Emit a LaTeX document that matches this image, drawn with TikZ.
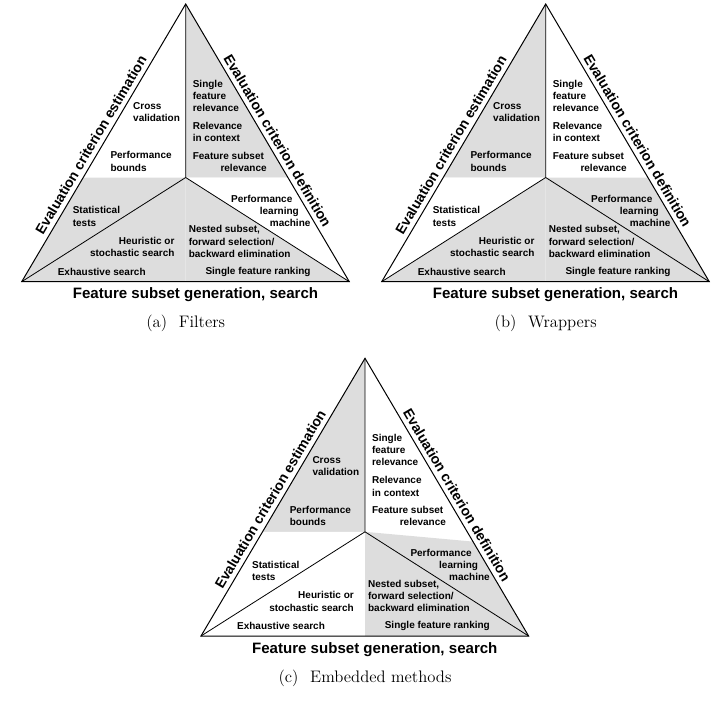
\documentclass[tikz,border=0pt]{standalone}
\usepackage{fontspec}
\newfontfamily\hvfont{Liberation Sans}
\usetikzlibrary{calc}

\definecolor{shadegray}{RGB}{221,221,221}

\tikzset{every picture/.style={line width=0.75pt},
  lbl/.style={font=\hvfont\bfseries\fontsize{7.5}{9.2}\selectfont, align=left, inner sep=0pt},
  side/.style={font=\hvfont\bfseries\fontsize{10.5}{12}\selectfont, inner sep=3.2pt, anchor=south},
  base/.style={font=\hvfont\bfseries\fontsize{11.3}{13}\selectfont, inner sep=0pt},
  capt/.style={font=\fontsize{12.5}{15}\selectfont, inner sep=0pt},
  split/.style={line width=0.6pt}}

% #1 prefix, #2 apex, #3 to #8 fills: upper left, upper right, left, right, bottom left, bottom right, #9 right split
\newcommand{\featri}[9]{%
  \begin{scope}[shift={#2}, name prefix=#1-]
    \coordinate (top) at (0,0);
    \coordinate (bl) at (-164,277.7);
    \coordinate (br) at (163.6,277.7);
    \coordinate (mid) at (0,173.5);
    \coordinate (bm) at (0,277.7);
    \coordinate (lsp) at ($(top)!0.625!(bl)$);
    \coordinate (rsp) at ($(top)!#9!(br)$);
    %Shapes: regions
    \fill[#3] (top) -- (mid) -- (lsp) -- cycle;
    \fill[#4] (top) -- (rsp) -- (mid) -- cycle;
    \fill[#5] (lsp) -- (mid) -- (bl) -- cycle;
    \fill[#6] (rsp) -- (br) -- (mid) -- cycle;
    \fill[#7] (mid) -- (bm) -- (bl) -- cycle;
    \fill[#8] (mid) -- (br) -- (bm) -- cycle;
    %Straight Lines
    \draw[split] (top) -- (mid) (bl) -- (mid) -- (br);
    %Shape: Triangle
    \draw (bl) -- (top) -- (br) -- cycle;

    % Text Node
    \node[side, rotate=59.44] (est) at ($(bl)!0.474!(top)$) {Evaluation criterion estimation};
    % Text Node
    \node[side, rotate=-59.5] (def) at ($(top)!0.51!(br)$) {Evaluation criterion definition};
    % Text Node
    \node[lbl, anchor=west] (cv) at (-53,107.7) {Cross\\validation};
    % Text Node
    \node[lbl, anchor=west] (pb) at (-75.7,157.5) {Performance\\bounds};
    % Text Node
    \node[lbl, anchor=west] (sfr) at (6.6,91.8) {Single\\feature\\relevance};
    % Text Node
    \node[lbl, anchor=west] (ric) at (6.6,128.2) {Relevance\\in context};
    % Text Node
    \node[lbl, anchor=west] (fsr) at (6.6,157.8) {Feature subset\\\hspace*{20.8pt}relevance};
    % Text Node
    \node[lbl, anchor=west] (plm) at (45,206.7) {Performance\\\hspace*{21.5pt}learning\\\hspace*{29pt}machine};
    % Text Node
    \node[lbl, anchor=west] (st) at (-113.4,212.5) {Statistical\\tests};
    % Text Node
    \node[lbl, anchor=east, align=right] (hs) at (-10.7,243.2) {Heuristic or\\stochastic search};
    % Text Node
    \node[lbl, anchor=west] (ns) at (2.6,237.6) {Nested subset,\\forward selection/\\backward elimination};
    % Text Node
    \node[lbl, anchor=west] (es) at (-128.4,267.7) {Exhaustive search};
    % Text Node
    \node[lbl, anchor=west] (sfk) at (19.3,267.7) {Single feature ranking};
    % Text Node
    \node[base] (gen) at (9.8,291) {Feature subset generation, search};
  \end{scope}}

\begin{document}
\begin{tikzpicture}[x=0.75pt,y=0.75pt,yscale=-1,xscale=1]
  \useasboundingbox (0,0) rectangle (718,704);

  %Filters
  \featri{a}{(185.7,4)}{white}{shadegray}{shadegray}{white}{shadegray}{shadegray}{0.625}
  %Wrappers
  \featri{b}{(545.7,4)}{shadegray}{white}{white}{shadegray}{shadegray}{shadegray}{0.625}
  %Embedded methods
  \featri{c}{(365,358.3)}{shadegray}{white}{white}{shadegray}{white}{shadegray}{0.66}

  % Text Node
  \node[capt] (capa) at (185.7,323.3) {(a)\hspace{8.8pt}Filters};
  % Text Node
  \node[capt] (capb) at (545.7,323.3) {(b)\hspace{8.8pt}Wrappers};
  % Text Node
  \node[capt] (capc) at (365,678.3) {(c)\hspace{8.8pt}Embedded methods};
\end{tikzpicture}
\end{document}
